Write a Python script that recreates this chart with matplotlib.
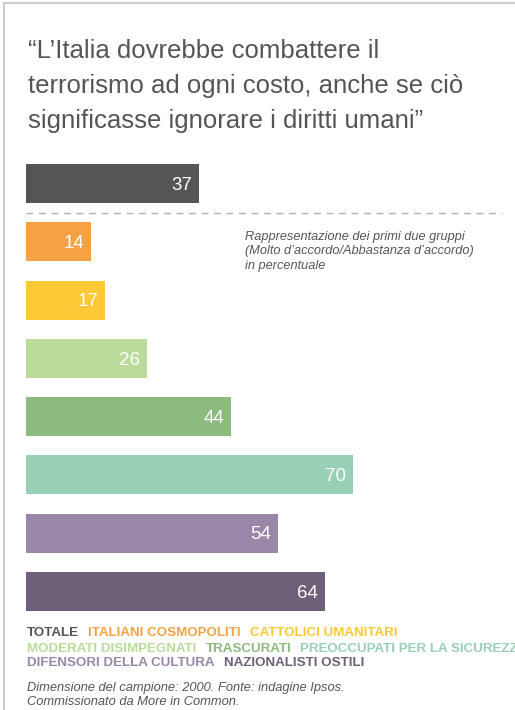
import matplotlib.pyplot as plt
from matplotlib.lines import Line2D

# data
groups = ['TOTALE', 'ITALIANI COSMOPOLITI', 'CATTOLICI UMANITARI', 'MODERATI DISIMPEGNATI',
          'TRASCURATI', 'PREOCCUPATI PER LA SICUREZZA', 'DIFENSORI DELLA CULTURA',
          'NAZIONALISTI OSTILI']
values = [37, 14, 17, 26, 44, 70, 54, 64]
colors = ['#555555', '#F5A244', '#FFC836', '#BBDB9B', '#8CBB7E', '#99D0B5', '#9A87A8', '#6F6079']
legend_rows = [[0, 1, 2], [3, 4, 5], [6, 7]]

title = "\u201cL\u2019Italia dovrebbe combattere il\nterrorismo ad ogni costo, anche se ci\u00f2\nsignificasse ignorare i diritti umani\u201d"
note = "Rappresentazione dei primi due gruppi\n(Molto d\u2019accordo/Abbastanza d\u2019accordo)\nin percentuale"
source = "Dimensione del campione: 2000. Fonte: indagine Ipsos.\nCommissionato da More in Common."

W, H = 515, 710
plt.rcParams['font.family'] = ['Liberation Sans', 'DejaVu Sans']
fig = plt.figure(figsize=(W / 100, H / 100), dpi=100)
fig.patch.set_facecolor('white')

def fx(px):
    return px / W

def fy(py):
    return 1 - py / H

# border
fig.add_artist(Line2D([fx(4), fx(4)], [fy(3), 0], color='#cccccc', lw=1.5))
fig.add_artist(Line2D([fx(4), 1], [fy(3), fy(3)], color='#cccccc', lw=1.5))

# title
fig.text(fx(28), fy(39), title, fontsize=18.5, color='#555555', va='top', ha='left',
         linespacing=1.57)

# bars
top, bottom = 154.35, 620.65
ax = fig.add_axes([fx(26), fy(bottom), fx(W - 26), (bottom - top) / H])
ypos = list(range(len(values)))
ax.barh(ypos, values, height=0.67, color=colors)
ax.set_xlim(0, (W - 26) / 4.67)
ax.set_ylim(len(values) - 0.5, -0.5)
ax.axis('off')
for y, v in zip(ypos, values):
    ax.text(v - 1.5, y + 0.03, str(v), color='white', fontsize=13.5, ha='right', va='center')
ax.plot([0, 102], [0.5, 0.5], color='#b0b0b0', lw=1, ls=(0, (5, 4)), clip_on=False)

fig.text(fx(245), fy(231), note, fontsize=9.2, style='italic', color='#555555',
         va='top', ha='left', linespacing=1.25)

# legend
fig.canvas.draw()
r = fig.canvas.get_renderer()
row_y = [633, 649, 663]
for row, yy in zip(legend_rows, row_y):
    x = 27
    for i in row:
        t = fig.text(fx(x), fy(yy), groups[i], fontsize=9.6, fontweight='bold',
                     color=colors[i], va='center', ha='left')
        x += t.get_window_extent(r).width + 9

fig.text(fx(27), fy(682), source, fontsize=9.3, style='italic', color='#555555',
         va='top', ha='left', linespacing=1.2)

fig.savefig('out.png', dpi=100)
